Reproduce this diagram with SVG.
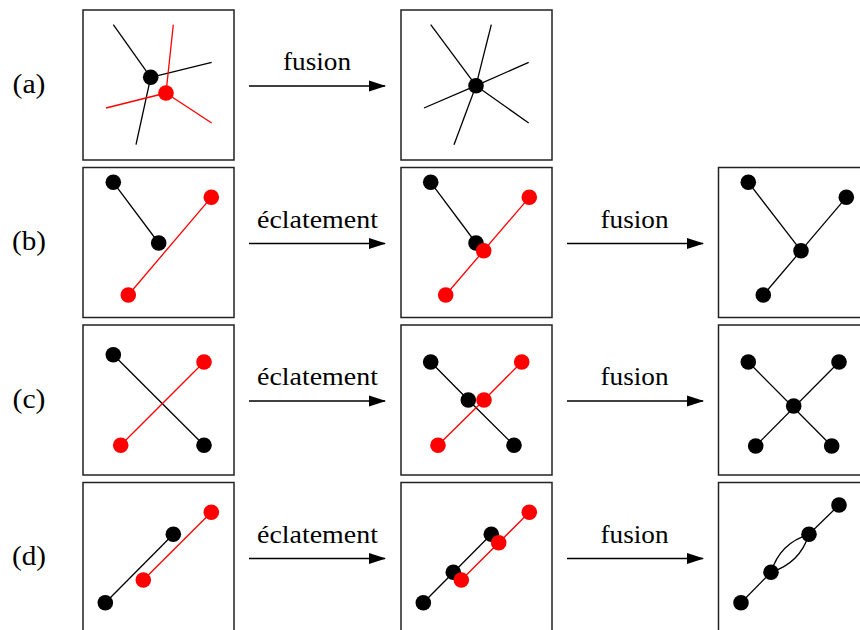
<svg xmlns="http://www.w3.org/2000/svg" width="860" height="630" viewBox="0 0 860 630">
<style>
.box{fill:#fff;stroke:#222;stroke-width:1.5}
.e{stroke:#000;stroke-width:1.3;fill:none}
.r{stroke:#f00;stroke-width:1.3;fill:none}
.nb{fill:#000}
.nr{fill:#f00}
.t{font-family:"Liberation Serif","Times New Roman",serif;font-size:26px;fill:#000}
.lab{font-family:"Liberation Serif","Times New Roman",serif;font-size:28px;fill:#000}
.arr{stroke:#000;stroke-width:1.3;fill:none;marker-end:url(#ah)}
</style>
<defs>
<marker id="ah" viewBox="0 0 17 12" refX="16" refY="6" markerWidth="17" markerHeight="12" markerUnits="userSpaceOnUse" orient="auto">
<path d="M0,0.5 L17,6 L0,11.5 z" fill="#000"/>
</marker>
</defs>
<rect width="860" height="630" fill="#fff"/>

<g id="labels">
<text class="lab" x="29" y="92.5" text-anchor="middle" textLength="33" lengthAdjust="spacingAndGlyphs">(a)</text>
<text class="lab" x="29" y="250" text-anchor="middle" textLength="34" lengthAdjust="spacingAndGlyphs">(b)</text>
<text class="lab" x="29" y="407.5" text-anchor="middle" textLength="33" lengthAdjust="spacingAndGlyphs">(c)</text>
<text class="lab" x="29" y="565" text-anchor="middle" textLength="34" lengthAdjust="spacingAndGlyphs">(d)</text>
</g>

<g id="connectors">
<line class="arr" x1="249" y1="86" x2="385" y2="86"/>
<text class="t" x="317" y="70" text-anchor="middle" textLength="68" lengthAdjust="spacingAndGlyphs">fusion</text>
<line class="arr" x1="249" y1="243.5" x2="385" y2="243.5"/>
<text class="t" x="317.5" y="227.5" text-anchor="middle" textLength="121" lengthAdjust="spacingAndGlyphs">éclatement</text>
<line class="arr" x1="567" y1="243.5" x2="703" y2="243.5"/>
<text class="t" x="634.5" y="227.5" text-anchor="middle" textLength="68" lengthAdjust="spacingAndGlyphs">fusion</text>
<line class="arr" x1="249" y1="401" x2="385" y2="401"/>
<text class="t" x="317.5" y="385" text-anchor="middle" textLength="121" lengthAdjust="spacingAndGlyphs">éclatement</text>
<line class="arr" x1="567" y1="401" x2="703" y2="401"/>
<text class="t" x="634.5" y="385" text-anchor="middle" textLength="68" lengthAdjust="spacingAndGlyphs">fusion</text>
<line class="arr" x1="249" y1="558.5" x2="385" y2="558.5"/>
<text class="t" x="317.5" y="542.5" text-anchor="middle" textLength="121" lengthAdjust="spacingAndGlyphs">éclatement</text>
<line class="arr" x1="567" y1="558.5" x2="703" y2="558.5"/>
<text class="t" x="634.5" y="542.5" text-anchor="middle" textLength="68" lengthAdjust="spacingAndGlyphs">fusion</text>
</g>

<!-- Row a -->
<g id="a1">
<rect class="box" x="83" y="10" width="151" height="150"/>
<line class="e" x1="150.7" y1="77.3" x2="113.3" y2="24.7"/>
<line class="e" x1="150.7" y1="77.3" x2="211.7" y2="62.3"/>
<line class="e" x1="150.7" y1="77.3" x2="136" y2="144.7"/>
<line class="r" x1="166" y1="93" x2="173.3" y2="24.7"/>
<line class="r" x1="166" y1="93" x2="106" y2="108"/>
<line class="r" x1="166" y1="93" x2="211.7" y2="123"/>
<circle class="nb" cx="150.7" cy="77.3" r="7.8"/>
<circle class="nr" cx="166" cy="93" r="7.8"/>
</g>
<g id="a2">
<rect class="box" x="401" y="10" width="151" height="150"/>
<line class="e" x1="476" y1="85.7" x2="430.7" y2="24.7"/>
<line class="e" x1="476" y1="85.7" x2="491.3" y2="24.7"/>
<line class="e" x1="476" y1="85.7" x2="528.7" y2="62.3"/>
<line class="e" x1="476" y1="85.7" x2="424" y2="108"/>
<line class="e" x1="476" y1="85.7" x2="528.7" y2="123"/>
<line class="e" x1="476" y1="85.7" x2="454" y2="144.7"/>
<circle class="nb" cx="476" cy="85.7" r="7.8"/>
</g>

<!-- Row b -->
<g id="b1">
<rect class="box" x="83" y="167.5" width="151" height="150"/>
<line class="e" x1="113.3" y1="182.3" x2="158.7" y2="243"/>
<line class="r" x1="211.3" y1="197.3" x2="128.3" y2="295"/>
<circle class="nb" cx="113.3" cy="182.3" r="7.8"/>
<circle class="nb" cx="158.7" cy="243" r="7.8"/>
<circle class="nr" cx="211.3" cy="197.3" r="7.8"/>
<circle class="nr" cx="128.3" cy="295" r="7.8"/>
</g>
<g id="b2">
<rect class="box" x="401" y="167.5" width="151" height="150"/>
<line class="e" x1="430.7" y1="182.3" x2="476" y2="243"/>
<line class="r" x1="529.3" y1="197.3" x2="445.7" y2="295"/>
<circle class="nb" cx="430.7" cy="182.3" r="7.8"/>
<circle class="nb" cx="476" cy="243" r="7.8"/>
<circle class="nr" cx="529.3" cy="197.3" r="7.8"/>
<circle class="nr" cx="483.7" cy="250.7" r="7.8"/>
<circle class="nr" cx="445.7" cy="295" r="7.8"/>
</g>
<g id="b3">
<rect class="box" x="718.5" y="167.5" width="151" height="150"/>
<line class="e" x1="801" y1="250.7" x2="748.3" y2="182.3"/>
<line class="e" x1="801" y1="250.7" x2="846.3" y2="197.3"/>
<line class="e" x1="801" y1="250.7" x2="763.3" y2="295"/>
<circle class="nb" cx="748.3" cy="182.3" r="7.8"/>
<circle class="nb" cx="846.3" cy="197.3" r="7.8"/>
<circle class="nb" cx="801" cy="250.7" r="7.8"/>
<circle class="nb" cx="763.3" cy="295" r="7.8"/>
</g>

<!-- Row c -->
<g id="c1">
<rect class="box" x="83" y="325" width="151" height="150"/>
<line class="e" x1="113.3" y1="354.7" x2="204" y2="445.3"/>
<line class="r" x1="204" y1="362" x2="120.7" y2="445.3"/>
<circle class="nb" cx="113.3" cy="354.7" r="7.8"/>
<circle class="nb" cx="204" cy="445.3" r="7.8"/>
<circle class="nr" cx="204" cy="362" r="7.8"/>
<circle class="nr" cx="120.7" cy="445.3" r="7.8"/>
</g>
<g id="c2">
<rect class="box" x="401" y="325" width="151" height="150"/>
<polyline class="e" points="430.7,362 468.3,400 514,445.3"/>
<polyline class="r" points="521.7,362 484,400 438,445.3"/>
<circle class="nb" cx="430.7" cy="362" r="7.8"/>
<circle class="nb" cx="468.3" cy="400" r="7.8"/>
<circle class="nb" cx="514" cy="445.3" r="7.8"/>
<circle class="nr" cx="521.7" cy="362" r="7.8"/>
<circle class="nr" cx="484" cy="400" r="7.8"/>
<circle class="nr" cx="438" cy="445.3" r="7.8"/>
</g>
<g id="c3">
<rect class="box" x="718.5" y="325" width="151" height="150"/>
<line class="e" x1="748.3" y1="362" x2="831.7" y2="446"/>
<line class="e" x1="839" y1="362" x2="755.7" y2="446"/>
<circle class="nb" cx="748.3" cy="362" r="7.8"/>
<circle class="nb" cx="839" cy="362" r="7.8"/>
<circle class="nb" cx="793.7" cy="406" r="7.8"/>
<circle class="nb" cx="755.7" cy="446" r="7.8"/>
<circle class="nb" cx="831.7" cy="446" r="7.8"/>
</g>

<!-- Row d -->
<g id="d1">
<rect class="box" x="83" y="482.5" width="151" height="150"/>
<line class="e" x1="105.3" y1="602.7" x2="173.3" y2="534.3"/>
<line class="r" x1="143.3" y1="580" x2="211.3" y2="512.3"/>
<circle class="nb" cx="173.3" cy="534.3" r="7.8"/>
<circle class="nb" cx="105.3" cy="602.7" r="7.8"/>
<circle class="nr" cx="211.3" cy="512.3" r="7.8"/>
<circle class="nr" cx="143.3" cy="580" r="7.8"/>
</g>
<g id="d2">
<rect class="box" x="401" y="482.5" width="151" height="150"/>
<line class="e" x1="423.3" y1="602.7" x2="491.3" y2="534.3"/>
<line class="r" x1="461.3" y1="580" x2="529.3" y2="512.3"/>
<circle class="nb" cx="491.3" cy="534.3" r="7.8"/>
<circle class="nb" cx="453.3" cy="572.3" r="7.8"/>
<circle class="nb" cx="423.3" cy="602.7" r="7.8"/>
<circle class="nr" cx="529.3" cy="512.3" r="7.8"/>
<circle class="nr" cx="498.7" cy="542.7" r="7.8"/>
<circle class="nr" cx="461.3" cy="580" r="7.8"/>
</g>
<g id="d3">
<rect class="box" x="718.5" y="482.5" width="151" height="150"/>
<line class="e" x1="839" y1="505" x2="809" y2="534.3"/>
<line class="e" x1="771" y1="572.3" x2="741" y2="602.7"/>
<path class="e" d="M809,534.3 Q780,543 771,572.3"/>
<path class="e" d="M809,534.3 Q800,563 771,572.3"/>
<circle class="nb" cx="839" cy="505" r="7.8"/>
<circle class="nb" cx="809" cy="534.3" r="7.8"/>
<circle class="nb" cx="771" cy="572.3" r="7.8"/>
<circle class="nb" cx="741" cy="602.7" r="7.8"/>
</g>
</svg>
